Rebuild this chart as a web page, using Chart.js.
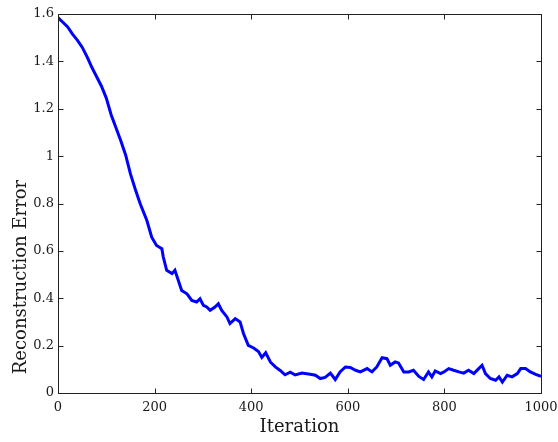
<!DOCTYPE html>
<html><head><meta charset="utf-8">
<script src="https://cdn.jsdelivr.net/npm/chart.js@4.4.1/dist/chart.umd.min.js"></script>
<style>html,body{margin:0;padding:0;background:#fff;} #wrap{width:558px;height:442px;position:relative;}</style>
</head><body><div id="wrap"><canvas id="c"></canvas></div>
<script>
const iterations = [0,10,20,30,40,50,60,70,80,90,100,110,120,130,140,150,160,170,184,194,204,215,218,225,236,242,249,256,267,277,287,294,301,308,315,325,332,339,350,356,367,377,384,394,405,415,422,430,440,450,460,470,481,491,505,522,533,543,553,564,574,584,595,605,616,626,640,650,660,671,681,688,698,705,716,726,736,747,757,767,774,781,792,799,809,819,830,840,850,861,871,878,885,895,906,913,920,930,940,951,958,968,978,989,1000];
const reconstructionError = [1.585,1.565,1.545,1.515,1.49,1.46,1.42,1.375,1.335,1.295,1.245,1.175,1.12,1.065,1.005,0.925,0.86,0.80,0.728,0.658,0.623,0.609,0.574,0.518,0.504,0.518,0.476,0.433,0.419,0.391,0.384,0.398,0.370,0.363,0.349,0.363,0.377,0.349,0.32,0.293,0.314,0.300,0.251,0.201,0.19,0.175,0.15,0.17,0.13,0.11,0.095,0.077,0.088,0.076,0.084,0.079,0.075,0.061,0.066,0.084,0.057,0.089,0.11,0.108,0.096,0.089,0.103,0.089,0.11,0.149,0.145,0.117,0.131,0.127,0.089,0.089,0.096,0.07,0.057,0.089,0.068,0.093,0.082,0.089,0.103,0.096,0.089,0.084,0.096,0.082,0.103,0.117,0.082,0.061,0.054,0.068,0.046,0.075,0.068,0.082,0.103,0.103,0.089,0.079,0.07];
const xTickValues = [0,200,400,600,800,1000];
const yTickValues = [0,0.2,0.4,0.6,0.8,1,1.2,1.4,1.6];
const xTitle = 'Iteration';
const yTitle = 'Reconstruction Error';

const TEXT = '#1a1a1a';
const FONT = 'DejaVu Serif';

const boxPlugin = {
  id: 'box',
  afterDatasetsDraw(chart) {
    const {ctx, chartArea: a, scales} = chart;
    ctx.save();
    ctx.strokeStyle = '#222';
    ctx.lineWidth = 1;
    const L = Math.round(a.left) + 0.5, R = Math.round(a.right) + 0.5;
    const T = Math.round(a.top) + 0.5, B = Math.round(a.bottom) + 0.5;
    ctx.strokeRect(L, T, R - L, B - T);
    const len = 5;
    ctx.beginPath();
    scales.x.ticks.forEach(t => {
      const px = Math.round(scales.x.getPixelForValue(t.value)) + 0.5;
      ctx.moveTo(px, B); ctx.lineTo(px, B - len);
      ctx.moveTo(px, T); ctx.lineTo(px, T + len);
    });
    scales.y.ticks.forEach(t => {
      const py = Math.round(scales.y.getPixelForValue(t.value)) + 0.5;
      ctx.moveTo(L, py); ctx.lineTo(L + len, py);
      ctx.moveTo(R, py); ctx.lineTo(R - len, py);
    });
    ctx.stroke();
    const cy = 277;
    ctx.translate(21, cy);
    ctx.rotate(-Math.PI / 2);
    ctx.fillStyle = TEXT;
    ctx.font = '18px "' + FONT + '"';
    ctx.textAlign = 'center';
    ctx.textBaseline = 'middle';
    ctx.fillText(yTitle, 0, 0);
    ctx.restore();
  }
};

new Chart(document.getElementById('c'), {
  type: 'line',
  data: {
    datasets: [{
      data: iterations.map((x, i) => ({x, y: reconstructionError[i]})),
      borderColor: '#0000ff',
      borderWidth: 3,
      pointRadius: 0,
      tension: 0,
      fill: false
    }]
  },
  options: {
    responsive: true,
    maintainAspectRatio: false,
    devicePixelRatio: 1,
    animation: false,
    layout: {padding: {top: 14, right: 17, left: 0, bottom: 0}},
    plugins: {legend: {display: false}, tooltip: {enabled: false}},
    scales: {
      x: {
        type: 'linear', min: 0, max: 1000,
        afterBuildTicks: s => { s.ticks = xTickValues.map(v => ({value: v})); },
        afterFit: s => { s.height = 49; s.paddingLeft = 0; s.paddingRight = 0; },
        grid: {display: false, drawTicks: false},
        border: {display: false},
        ticks: {color: TEXT, font: {family: FONT, size: 13}, padding: 7, maxRotation: 0, autoSkip: false, callback: v => String(v)},
        title: {display: true, text: xTitle, color: TEXT, font: {family: FONT, size: 18}, padding: {top: 0, bottom: 4}}
      },
      y: {
        type: 'linear', min: 0, max: 1.6,
        afterBuildTicks: s => { s.ticks = yTickValues.map(v => ({value: v})); },
        afterFit: s => { s.width = 58; s.paddingTop = 0; s.paddingBottom = 0; },
        grid: {display: false, drawTicks: false},
        border: {display: false},
        ticks: {color: TEXT, font: {family: FONT, size: 13}, padding: 4, autoSkip: false, callback: v => String(v)},
        title: {display: false}
      }
    }
  },
  plugins: [boxPlugin]
});
</script>
</body></html>
